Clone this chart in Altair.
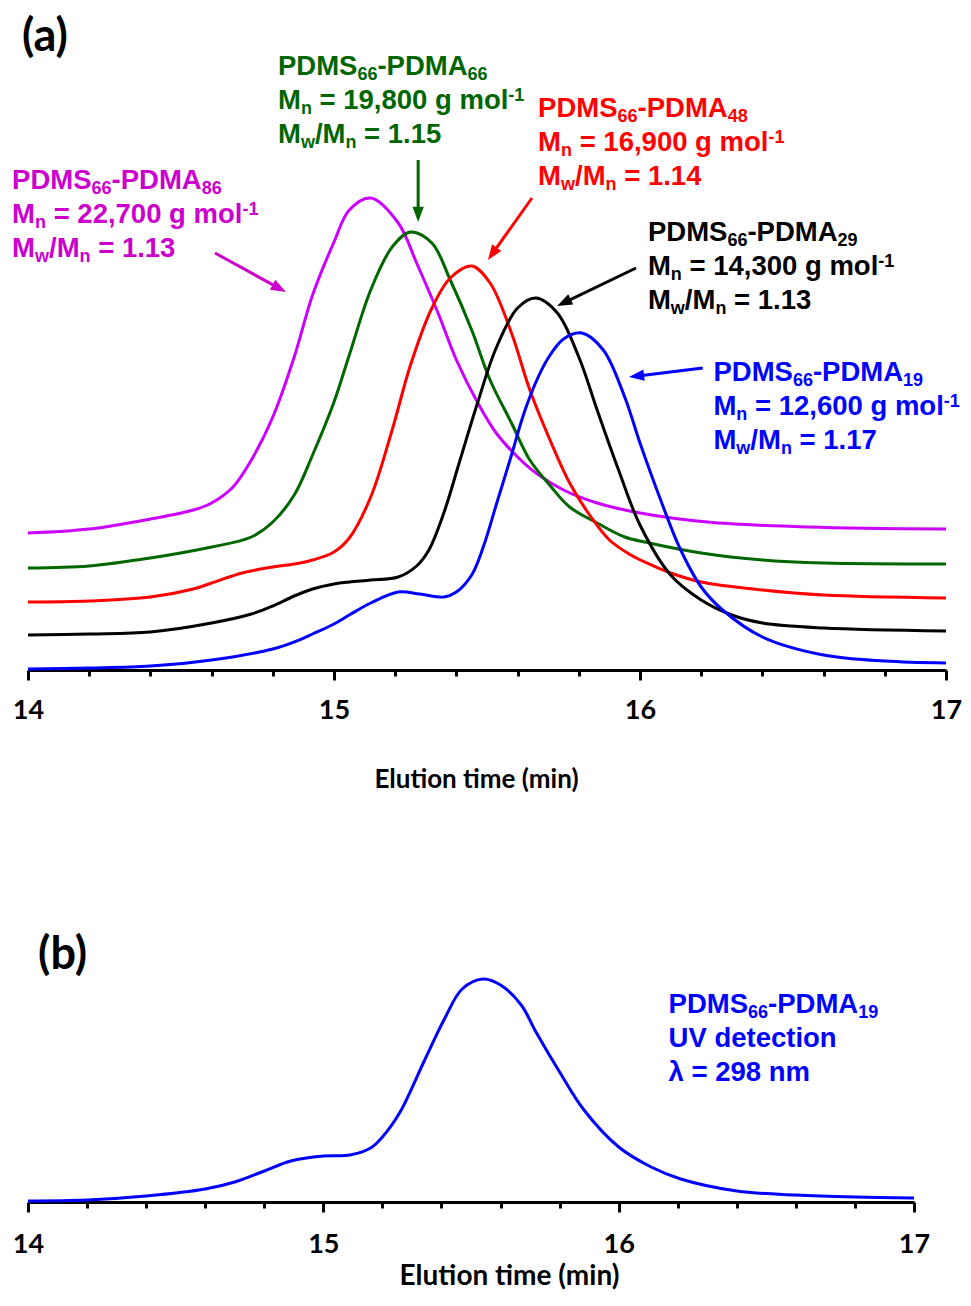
import math
import re
import altair as alt
import pandas as pd

# ---------------- data: panel (a) SEC traces (signal offset, arbitrary units) ----------------
t_86 = [14.0, 14.2, 14.4, 14.54, 14.6, 14.67, 14.73, 14.8, 14.87, 14.93, 15.0, 15.05, 15.12,
        15.21, 15.27, 15.34, 15.40, 15.47, 15.53, 15.6, 15.66, 15.75, 15.86, 16.0, 16.22, 16.55, 17.0]
h_86 = [137, 141, 151, 160, 167, 183, 210, 253, 313, 375, 428, 460, 472,
        447, 407, 357, 310, 267, 237, 213, 197, 180, 167, 157, 148, 143, 141]

t_66 = [14.0, 14.2, 14.4, 14.6, 14.73, 14.8, 14.87, 14.93, 15.0, 15.05, 15.12, 15.19, 15.25,
        15.32, 15.38, 15.45, 15.51, 15.58, 15.64, 15.71, 15.77, 15.86, 15.95, 16.03, 16.2, 16.4, 16.6, 17.0]
h_66 = [102, 104, 112, 123, 133, 148, 175, 215, 268, 315, 380, 423, 438,
        427, 390, 340, 290, 247, 210, 183, 163, 147, 133, 127, 117, 110, 107, 106]

t_48 = [14.0, 14.2, 14.4, 14.54, 14.6, 14.7, 14.8, 14.87, 14.93, 15.0, 15.05, 15.12, 15.19, 15.25,
        15.32, 15.38, 15.45, 15.51, 15.58, 15.64, 15.71, 15.77, 15.84, 15.9, 15.97, 16.03, 16.1,
        16.2, 16.4, 16.6, 17.0]
h_48 = [68, 69, 73, 81, 87, 97, 103, 106, 110, 118, 132, 173, 240, 305,
        362, 392, 404, 387, 337, 280, 227, 187, 153, 130, 115, 106, 97,
        88, 80, 75, 72]

t_29 = [14.0, 14.2, 14.4, 14.6, 14.73, 14.8, 14.87, 14.93, 15.0, 15.05, 15.12, 15.21, 15.27,
        15.31, 15.36, 15.41, 15.47, 15.53, 15.6, 15.66, 15.73, 15.80, 15.86, 15.93, 16.0, 16.1, 16.2,
        16.3, 16.4, 16.6, 17.0]
h_29 = [35, 36, 38, 47, 56, 64, 74, 81, 86, 88, 90, 93, 104,
        120, 158, 208, 268, 322, 362, 372, 357, 313, 260, 200, 145, 95, 70,
        55, 47, 42, 39]

t_19 = [14.0, 14.2, 14.4, 14.6, 14.8, 14.87, 14.93, 15.0, 15.05, 15.12, 15.21, 15.28, 15.36,
        15.40, 15.45, 15.49, 15.53, 15.58, 15.62, 15.66, 15.70, 15.75, 15.81, 15.88, 15.95, 16.0,
        16.07, 16.13, 16.2, 16.27, 16.4, 16.6, 16.8, 17.0]
h_19 = [1, 2, 4, 10, 21, 28, 36, 46, 55, 67, 78, 76, 73,
        78, 95, 125, 165, 215, 256, 288, 312, 331, 337, 320, 273, 227,
        168, 122, 83, 60, 33, 15, 9, 7]

series_keys = ["86", "66", "48", "29", "19"]
series_t = [t_86, t_66, t_48, t_29, t_19]
series_h = [h_86, h_66, h_48, h_29, h_19]
line_colors = ["#CC00FF", "#006600", "#FF0000", "#000000", "#0000FF"]
label_colors = ["#CC00CC", "#006600", "#FF0000", "#000000", "#0000FF"]

labels_a = [
    ["PDMS_{66}-PDMA_{86}", "M_{n} = 22,700 g mol^{-1}", "M_{w}/M_{n} = 1.13"],
    ["PDMS_{66}-PDMA_{66}", "M_{n} = 19,800 g mol^{-1}", "M_{w}/M_{n} = 1.15"],
    ["PDMS_{66}-PDMA_{48}", "M_{n} = 16,900 g mol^{-1}", "M_{w}/M_{n} = 1.14"],
    ["PDMS_{66}-PDMA_{29}", "M_{n} = 14,300 g mol^{-1}", "M_{w}/M_{n} = 1.13"],
    ["PDMS_{66}-PDMA_{19}", "M_{n} = 12,600 g mol^{-1}", "M_{w}/M_{n} = 1.17"],
]
label_t = [13.948, 14.817, 15.667, 16.026, 16.240]
label_h = [481, 595, 553, 429, 289]

arrow_t0 = [14.611, 15.275, 15.647, 15.987, 16.205]
arrow_h0 = [417, 510, 472, 402, 302]
arrow_t1 = [14.843, 15.275, 15.503, 15.729, 15.964]
arrow_h1 = [378, 448, 410, 364, 293]

# ---------------- data: panel (b) UV trace ----------------
t_uv = [14.0, 14.2, 14.4, 14.6, 14.7, 14.8, 14.89, 15.0, 15.09, 15.16, 15.2, 15.26, 15.34, 15.41,
        15.47, 15.54, 15.6, 15.67, 15.72, 15.8, 15.88, 16.0, 16.11, 16.21, 16.4, 16.6, 16.8, 17.0]
h_uv = [1, 2, 6, 13, 20, 31, 41, 46, 47, 54, 65, 90, 140, 183,
        213, 223, 217, 197, 170, 130, 93, 55, 35, 23, 11, 7, 5, 4]
labels_b = ["PDMS_{66}-PDMA_{19}", "UV detection", "λ = 298 nm"]
label_b_t = 16.169
label_b_h = 189

tick_values = [14.0, 14.2, 14.4, 14.6, 14.8, 15.0, 15.2, 15.4, 15.6, 15.8,
               16.0, 16.2, 16.4, 16.6, 16.8, 17.0]
panel_tags = ["(a)", "(b)"]
tag_t = [13.980, 14.034]
tag_h = [619, 233]

# ---------------- layout constants ----------------
WA, HA = 918, 662
WB, HB = 886, 296
PXA = WA / 3.0
PXB = WB / 3.0
MAIN = 27.5
SUB = 18.0
LINE = 34

W = {' ': 278, '(': 333, ')': 333, ',': 278, '-': 333, '.': 278, '/': 278, '=': 584,
     'A': 722, 'D': 722, 'M': 833, 'P': 667, 'S': 667, 'U': 722, 'V': 667,
     'c': 556, 'd': 611, 'e': 556, 'g': 611, 'i': 278, 'l': 278, 'm': 889, 'n': 611,
     'o': 611, 't': 333, 'w': 778, 'λ': 556}
for d in "0123456789":
    W[d] = 556


def tw(s, fs):
    return sum(W.get(c, 556) for c in s) * fs / 1000.0


def segs(markup):
    out = []
    for p in re.split(r"(_\{[^}]*\}|\^\{[^}]*\})", markup):
        if not p:
            continue
        if p.startswith("_{"):
            out.append((p[2:-1], "sub"))
        elif p.startswith("^{"):
            out.append((p[2:-1], "sup"))
        else:
            out.append((p, "main"))
    return out


def text_rows(lines, t0, h0, color, px):
    rows = []
    for i, ln in enumerate(lines):
        hb = h0 - LINE * i
        cur = 0.0
        for txt, kind in segs(ln):
            fs = MAIN if kind == "main" else SUB
            lead = len(txt) - len(txt.lstrip(" "))
            cur += tw(" " * lead, fs)
            body = txt.lstrip(" ")
            dh = 0 if kind == "main" else (-5 if kind == "sub" else 8)
            if body.strip():
                rows.append({"t": t0 + cur / px, "h": hb + dh, "txt": body.rstrip(" "),
                             "c": color, "fs": fs})
            cur += tw(body, fs)
    return rows


# ---------------- tables ----------------
rows = []
for k, ts, hs in zip(series_keys, series_t, series_h):
    for t, h in zip(ts, hs):
        rows.append({"t": t, "h": h, "s": k})
df_a = pd.DataFrame(rows)

trows = []
for lines, t0, h0, c in zip(labels_a, label_t, label_h, label_colors):
    trows += text_rows(lines, t0, h0, c, PXA)
df_ta = pd.DataFrame(trows)

arows = []
for t0, h0, t1, h1, c in zip(arrow_t0, arrow_h0, arrow_t1, arrow_h1, label_colors):
    dx = (t1 - t0) * PXA
    dy = -(h1 - h0)
    ln = math.hypot(dx, dy)
    ux, uy = dx / ln, dy / ln
    ang = math.degrees(math.atan2(dx, -dy)) % 360
    arows.append({"t0": t0, "h0": h0, "t1s": t1 - 9 * ux / PXA, "h1s": h1 + 9 * uy,
                  "t1": t1, "h1": h1, "ang": ang, "c": c})
df_arr = pd.DataFrame(arows)

df_b = pd.DataFrame({"t": t_uv, "h": h_uv})
df_tb = pd.DataFrame(text_rows(labels_b, label_b_t, label_b_h, "#0000FF", PXB))
df_tag_a = pd.DataFrame({"t": [tag_t[0]], "h": [tag_h[0]], "txt": [panel_tags[0]]})
df_tag_b = pd.DataFrame({"t": [tag_t[1]], "h": [tag_h[1]], "txt": [panel_tags[1]]})

# ---------------- axes / scales ----------------
is_major = "abs(datum.value - round(datum.value)) < 0.01"


def make_axis(title_size, label_pad, title_x, title_y):
    return alt.Axis(
        values=tick_values,
        labelExpr=f"{is_major} ? format(datum.value, 'd') : ''",
        tickSize={"condition": {"test": is_major, "value": 10}, "value": 6},
        tickWidth=3, tickColor="black", domainWidth=3, domainColor="black",
        labelFont="Lato", labelFontWeight="bold", labelFontSize=27, labelColor="black",
        labelPadding=label_pad, labelFlush=False, labelOverlap=False,
        grid=False,
        title="Elution time (min)", titleFont="Lato", titleFontWeight="bold",
        titleFontSize=title_size, titleColor="black", titleX=title_x, titleY=title_y,
        titleBaseline="alphabetic", titleAnchor="start", titleAlign="center",
    )


axis_a = make_axis(26, 17, 448, 117)
axis_b = make_axis(28, 19, 481, 82)
xs = alt.Scale(domain=[14, 17], nice=False, zero=False)
ysa = alt.Scale(domain=[0, HA], nice=False, zero=False)
ysb = alt.Scale(domain=[0, HB], nice=False, zero=False)

CURVE = "catmull-rom"

# ---------------- panel (a) ----------------
lines_a = alt.Chart(df_a).mark_line(strokeWidth=3, interpolate=CURVE).encode(
    x=alt.X("t:Q", scale=xs, axis=axis_a),
    y=alt.Y("h:Q", scale=ysa, axis=None),
    color=alt.Color("s:N", scale=alt.Scale(domain=series_keys, range=line_colors), legend=None),
)
rules_a = alt.Chart(df_arr).mark_rule(strokeWidth=3).encode(
    x=alt.X("t0:Q", scale=xs, axis=axis_a),
    y=alt.Y("h0:Q", scale=ysa, axis=None),
    x2="t1s:Q", y2="h1s:Q",
    color=alt.Color("c:N", scale=None),
)
heads_a = alt.Chart(df_arr).mark_point(
    shape="M0,0L-0.75,2L0.75,2Z", filled=True, size=230, opacity=1, strokeWidth=0
).encode(
    x=alt.X("t1:Q", scale=xs, axis=axis_a),
    y=alt.Y("h1:Q", scale=ysa, axis=None),
    angle=alt.Angle("ang:Q", scale=None),
    color=alt.Color("c:N", scale=None),
)
text_a = alt.Chart(df_ta).mark_text(
    align="left", baseline="alphabetic", font="Liberation Sans", fontWeight="bold"
).encode(
    x=alt.X("t:Q", scale=xs, axis=axis_a),
    y=alt.Y("h:Q", scale=ysa, axis=None),
    text="txt:N",
    color=alt.Color("c:N", scale=None),
    size=alt.Size("fs:Q", scale=None),
)
tag_a = alt.Chart(df_tag_a).mark_text(
    align="left", baseline="alphabetic", font="Lato", fontWeight="bold", fontSize=45, color="black"
).encode(
    x=alt.X("t:Q", scale=xs, axis=axis_a),
    y=alt.Y("h:Q", scale=ysa, axis=None),
    text="txt:N",
)
panel_a = alt.layer(lines_a, rules_a, heads_a, text_a, tag_a).properties(width=WA, height=HA)

# ---------------- panel (b) ----------------
line_b = alt.Chart(df_b).mark_line(strokeWidth=3, interpolate=CURVE, color="#0000FF").encode(
    x=alt.X("t:Q", scale=xs, axis=axis_b),
    y=alt.Y("h:Q", scale=ysb, axis=None),
)
text_b = alt.Chart(df_tb).mark_text(
    align="left", baseline="alphabetic", font="Liberation Sans", fontWeight="bold"
).encode(
    x=alt.X("t:Q", scale=xs, axis=axis_b),
    y=alt.Y("h:Q", scale=ysb, axis=None),
    text="txt:N",
    color=alt.Color("c:N", scale=None),
    size=alt.Size("fs:Q", scale=None),
)
tag_b = alt.Chart(df_tag_b).mark_text(
    align="left", baseline="alphabetic", font="Lato", fontWeight="bold", fontSize=45, color="black"
).encode(
    x=alt.X("t:Q", scale=xs, axis=axis_b),
    y=alt.Y("h:Q", scale=ysb, axis=None),
    text="txt:N",
)
panel_b = alt.layer(line_b, text_b, tag_b).properties(width=WB, height=HB)

chart = alt.vconcat(panel_a, panel_b, spacing=114).properties(
    padding={"left": 4, "top": 0, "right": 0, "bottom": 0}
).configure_view(stroke=None)

chart.save("out.html", embed_options={"renderer": "svg", "actions": False})
